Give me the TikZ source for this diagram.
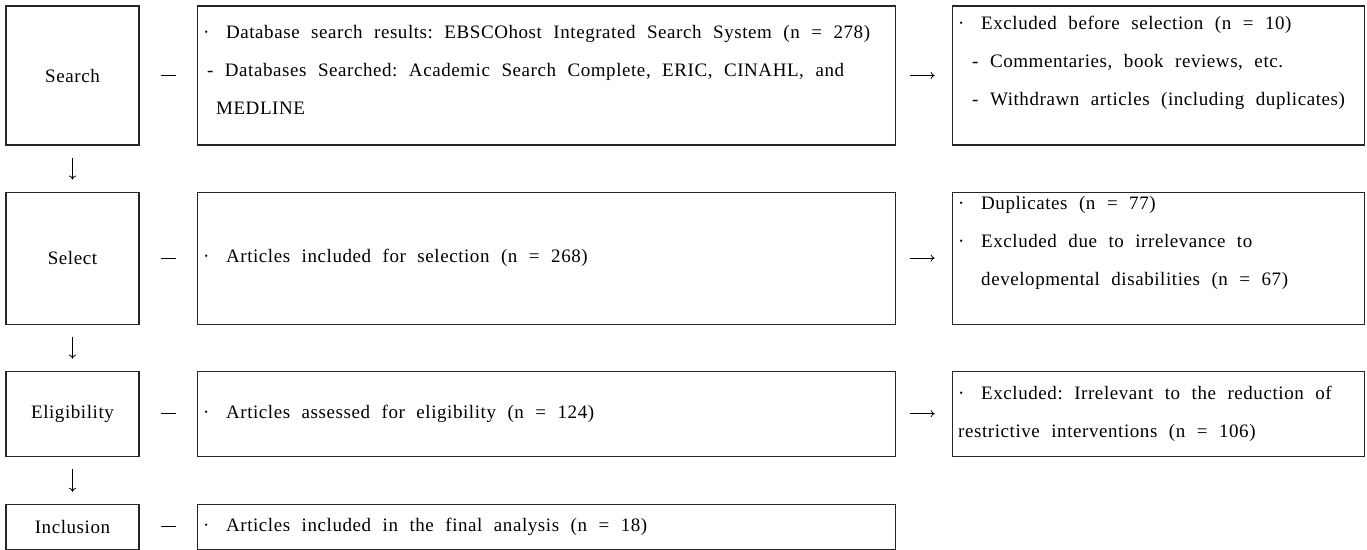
\documentclass[tikz,border=0pt]{standalone}
\usepackage{fontspec}
\setmainfont{Liberation Serif}[LetterSpace=3]
\usepackage{tikz}
\usetikzlibrary{arrows.meta,positioning}

\newcommand{\bul}{\makebox[23pt][l]{\textperiodcentered}}
\newcommand{\boxfont}{\fontsize{19}{38}\selectfont\frenchspacing\spaceskip=11.5pt plus 1pt minus 1pt\xspaceskip=11.5pt\relax}

\begin{document}
\begin{tikzpicture}[
    x=1pt, y=1pt,
    node distance=46pt and 57pt,
    stagebox/.style={draw=black!85, line width=1.1pt, minimum width=133pt, inner sep=0pt, font=\boxfont},
    recordbox/.style={draw=black!85, line width=1.1pt, text width=686pt, inner xsep=6pt, inner ysep=0pt, align=flush left, font=\boxfont},
    exclbox/.style={recordbox, text width=400pt},
    linkline/.style={line width=0.8pt, shorten <=21pt, shorten >=21pt},
    flowarrow/.style={-{To[length=4pt,width=7pt]}, line width=0.8pt, shorten <=14pt, shorten >=17pt},
    stagearrow/.style={-{To[length=4pt,width=7pt]}, line width=0.8pt, shorten <=12pt, shorten >=12pt}
  ]
    \useasboundingbox (0,0) rectangle (1367,-549);
    % stages
    \node[stagebox, minimum height=139pt] (search) at (72.5,-75.5) {Search};
    \node[stagebox, minimum height=132pt, below=46pt of search] (select) {Select};
    \node[stagebox, minimum height=85pt, below=46pt of select] (elig) {Eligibility};
    \node[stagebox, minimum height=45pt, below=47pt of elig] (incl) {Inclusion};
    % records
    \node[recordbox, minimum height=139pt, text depth=88pt, right=57pt of search] (searchres) {\bul Database search results: EBSCOhost Integrated Search System (n = 278)\\
      \hspace*{4pt}- Databases Searched: Academic Search Complete, ERIC, CINAHL, and\\
      \hspace*{13pt}MEDLINE};
    \node[recordbox, minimum height=132pt, right=57pt of select] (selectres) {\bul Articles included for selection (n = 268)};
    \node[recordbox, minimum height=85pt, right=57pt of elig] (eligres) {\bul Articles assessed for eligibility (n = 124)};
    \node[recordbox, minimum height=45pt, right=57pt of incl] (inclres) {\bul Articles included in the final analysis (n = 18)};
    % exclusions
    \node[exclbox, minimum height=139pt, text depth=106pt, right=56pt of searchres] (searchexcl) {\bul Excluded before selection (n = 10)\\
      \hspace*{14pt}- Commentaries, book reviews, etc.\\
      \hspace*{14pt}- Withdrawn articles (including duplicates)};
    \node[exclbox, minimum height=132pt, text depth=110pt, right=56pt of selectres] (selectexcl) {\bul Duplicates (n = 77)\\
      \bul Excluded due to irrelevance to\\
      \hspace*{23pt}developmental disabilities (n = 67)};
    \node[exclbox, minimum height=85pt, right=56pt of eligres] (eligexcl) {\bul Excluded: Irrelevant to the reduction of\\
      restrictive interventions (n = 106)};
    % connectors
    \draw[linkline] (search) -- (searchres);
    \draw[linkline] (select) -- (selectres);
    \draw[linkline] (elig) -- (eligres);
    \draw[linkline] (incl) -- (inclres);
    \draw[flowarrow] (searchres) -- (searchexcl);
    \draw[flowarrow] (selectres) -- (selectexcl);
    \draw[flowarrow] (eligres) -- (eligexcl);
    \draw[stagearrow] (search) -- (select);
    \draw[stagearrow] (select) -- (elig);
    \draw[stagearrow] (elig) -- (incl);
  \end{tikzpicture}
\end{document}
